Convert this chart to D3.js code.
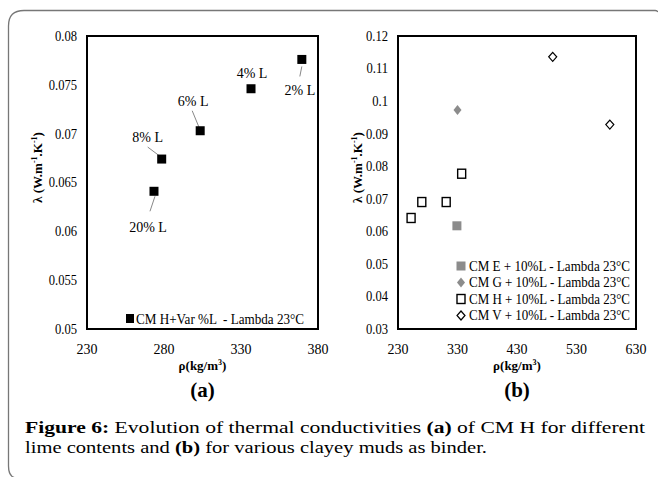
<!DOCTYPE html>
<html>
<head>
<meta charset="utf-8">
<script src="https://cdn.jsdelivr.net/npm/d3@7"></script>
<style>
  body { margin: 0; background: #fff; }
  svg { display: block; font-family: "Liberation Serif", "Times New Roman", serif; }
</style>
</head>
<body>
<svg id="chart"></svg>
<script>
// panel (a): CM H with varying lime content
const limeLabels = ['2% L', '4% L', '6% L', '8% L', '20% L'];
const limeRho = [369.5, 336.5, 303.5, 278.5, 273.5];
const limeLambda = [0.0776, 0.0746, 0.0703, 0.0674, 0.0641];

// panel (b): clayey muds with 10% lime
const mudNames = [
  'CM E + 10%L - Lambda 23°C',
  'CM G + 10%L - Lambda 23°C',
  'CM H + 10%L - Lambda 23°C',
  'CM V + 10%L - Lambda 23°C'
];
const mudRho = [[329], [330], [252, 270, 311, 337], [490, 586]];
const mudLambda = [[0.0617], [0.0973], [0.0641, 0.0690, 0.0690, 0.0777], [0.1136, 0.0928]];

const ticksA_x = [230, 280, 330, 380];
const ticksA_y = [0.05, 0.055, 0.06, 0.065, 0.07, 0.075, 0.08];
const ticksB_x = [230, 330, 430, 530, 630];
const ticksB_y = [0.03, 0.04, 0.05, 0.06, 0.07, 0.08, 0.09, 0.1, 0.11, 0.12];

const width = 658;
const height = 477;

const svg = d3.select('#chart')
  .attr('width', width)
  .attr('height', height);

// outer rounded frame (runs off the right edge)
svg.append('path')
  .attr('d', 'M658,12 Q657,10.5 655,10.5 L24,10.5 Q8.5,10.5 8.5,26 L8.5,466 Q8.5,477 16,478')
  .attr('fill', 'none')
  .attr('stroke', '#777')
  .attr('stroke-width', 1.3);

const drawFrame = (g, x, y, xTicks, yTicks, yFmt, tag, titleX) => {
  const [x0, x1] = x.range();
  const [y0, y1] = y.range();

  g.append('rect')
    .attr('x', x0)
    .attr('y', y1)
    .attr('width', x1 - x0)
    .attr('height', y0 - y1)
    .attr('fill', 'none')
    .attr('stroke', '#000')
    .attr('stroke-width', 2);

  g.selectAll('.ytick')
    .data(yTicks)
    .enter().append('text')
    .attr('x', x0 - 10)
    .attr('y', d => y(d))
    .attr('dy', '0.35em')
    .attr('text-anchor', 'end')
    .attr('font-size', 14)
    .attr('transform', `translate(${(x0 - 10) * 0.1},0) scale(0.9,1)`)
    .text(yFmt);

  g.selectAll('.xtick')
    .data(xTicks)
    .enter().append('text')
    .attr('x', d => x(d))
    .attr('y', y0 + 25)
    .attr('text-anchor', 'middle')
    .attr('font-size', 14)
    .text(d => d);

  const xt = g.append('text')
    .attr('x', (x0 + x1) / 2)
    .attr('y', y0 + 41)
    .attr('text-anchor', 'middle')
    .attr('font-size', 13)
    .attr('font-weight', 'bold');
  xt.append('tspan').text('ρ(kg/m');
  xt.append('tspan').attr('font-size', 8).attr('dy', -5).text('3');
  xt.append('tspan').attr('dy', 5).text(')');

  g.append('text')
    .attr('x', (x0 + x1) / 2)
    .attr('y', y0 + 68)
    .attr('text-anchor', 'middle')
    .attr('font-size', 21)
    .attr('font-weight', 'bold')
    .text(tag);

  const yt = g.append('text')
    .attr('transform', `translate(${titleX},${(y0 + y1) / 2 - 15}) rotate(-90)`)
    .attr('text-anchor', 'middle')
    .attr('font-size', 13)
    .attr('font-weight', 'bold');
  yt.append('tspan').text('λ (W.m');
  yt.append('tspan').attr('font-size', 8).attr('dy', -5).text('-1');
  yt.append('tspan').attr('dy', 5).text('.K');
  yt.append('tspan').attr('font-size', 8).attr('dy', -5).text('-1');
  yt.append('tspan').attr('dy', 5).text(')');
};

// ---- panel (a)
const xA = d3.scaleLinear().domain([230, 380]).range([87, 318]);
const yA = d3.scaleLinear().domain([0.05, 0.08]).range([329, 36]);
const gA = svg.append('g');
drawFrame(gA, xA, yA, ticksA_x, ticksA_y, d => d3.format('')(+d.toFixed(3)), '(a)', 42);

const pointsA = limeLabels.map((label, i) => ({ label, rho: limeRho[i], lambda: limeLambda[i] }));

// label offsets relative to the point: text offset and leader line ends
const labelPos = {
  '2% L': { dx: -2, dy: 31, line: [[0, 7], [-2, 17]] },
  '4% L': { dx: 1, dy: -16, line: null },
  '6% L': { dx: -7, dy: -30, line: [[-1, -3], [-8, -20]] },
  '8% L': { dx: -14, dy: -22, line: [[-2, -3], [-14, -12]] },
  '20% L': { dx: -6, dy: 36, line: [[1, 5], [-4, 20]] }
};

pointsA.forEach(p => {
  const px = xA(p.rho);
  const py = yA(p.lambda);
  const pos = labelPos[p.label];
  if (pos.line) {
    gA.append('line')
      .attr('x1', px + pos.line[0][0])
      .attr('y1', py + pos.line[0][1])
      .attr('x2', px + pos.line[1][0])
      .attr('y2', py + pos.line[1][1])
      .attr('stroke', '#888')
      .attr('stroke-width', 1);
  }
  gA.append('text')
    .attr('x', px + pos.dx)
    .attr('y', py + pos.dy)
    .attr('dy', '0.35em')
    .attr('text-anchor', 'middle')
    .attr('font-size', 14)
    .text(p.label);
});

gA.selectAll('.ptA')
  .data(pointsA)
  .enter().append('rect')
  .attr('x', d => xA(d.rho) - 4.5)
  .attr('y', d => yA(d.lambda) - 4.5)
  .attr('width', 9)
  .attr('height', 9)
  .attr('fill', '#000');

gA.append('rect')
  .attr('x', 126)
  .attr('y', 314)
  .attr('width', 8)
  .attr('height', 9)
  .attr('fill', '#000');
gA.append('text')
  .attr('x', 136)
  .attr('y', 319)
  .attr('dy', '0.35em')
  .attr('font-size', 14)
  .attr('textLength', 168)
  .attr('lengthAdjust', 'spacingAndGlyphs')
  .attr('xml:space', 'preserve')
  .text('CM H+Var %L  - Lambda 23°C');

// ---- panel (b)
const xB = d3.scaleLinear().domain([230, 630]).range([398, 636]);
const yB = d3.scaleLinear().domain([0.03, 0.12]).range([329, 36]);
const gB = svg.append('g');
drawFrame(gB, xB, yB, ticksB_x, ticksB_y, d => d3.format('')(+d.toFixed(2)), '(b)', 362);

const gray = '#8c8c8c';
const symbols = [
  (g, cx, cy) => g.append('rect').attr('x', cx - 4.5).attr('y', cy - 4.5).attr('width', 9).attr('height', 9).attr('fill', gray),
  (g, cx, cy) => g.append('path').attr('d', `M${cx},${cy - 5}L${cx + 4},${cy}L${cx},${cy + 5}L${cx - 4},${cy}Z`).attr('fill', gray),
  (g, cx, cy) => g.append('rect').attr('x', cx - 4).attr('y', cy - 4.5).attr('width', 8).attr('height', 9).attr('fill', '#fff').attr('stroke', '#000').attr('stroke-width', 1.4),
  (g, cx, cy) => g.append('path').attr('d', `M${cx},${cy - 4.5}L${cx + 4},${cy}L${cx},${cy + 4.5}L${cx - 4},${cy}Z`).attr('fill', '#fff').attr('stroke', '#000').attr('stroke-width', 1.2)
];

mudNames.forEach((name, s) => {
  mudRho[s].forEach((rho, i) => {
    symbols[s](gB, xB(rho), yB(mudLambda[s][i]));
  });
  const ly = 266 + s * 16.5;
  symbols[s](gB, 461, ly);
  gB.append('text')
    .attr('x', 469)
    .attr('y', ly)
    .attr('dy', '0.35em')
    .attr('font-size', 14)
    .attr('textLength', 161)
    .attr('lengthAdjust', 'spacingAndGlyphs')
    .text(name);
});

// ---- caption, two lines
const line1 = svg.append('text')
  .attr('x', 25)
  .attr('y', 433)
  .attr('font-size', 17.5)
  .attr('textLength', 620)
  .attr('lengthAdjust', 'spacingAndGlyphs');
line1.append('tspan').attr('font-weight', 'bold').text('Figure 6:');
line1.append('tspan').text(' Evolution of thermal conductivities ');
line1.append('tspan').attr('font-weight', 'bold').text('(a)');
line1.append('tspan').text(' of CM H for different');

const line2 = svg.append('text')
  .attr('x', 25)
  .attr('y', 453)
  .attr('font-size', 17.5)
  .attr('textLength', 462)
  .attr('lengthAdjust', 'spacingAndGlyphs');
line2.append('tspan').text('lime contents and ');
line2.append('tspan').attr('font-weight', 'bold').text('(b)');
line2.append('tspan').text(' for various clayey muds as binder.');
</script>
</body>
</html>
